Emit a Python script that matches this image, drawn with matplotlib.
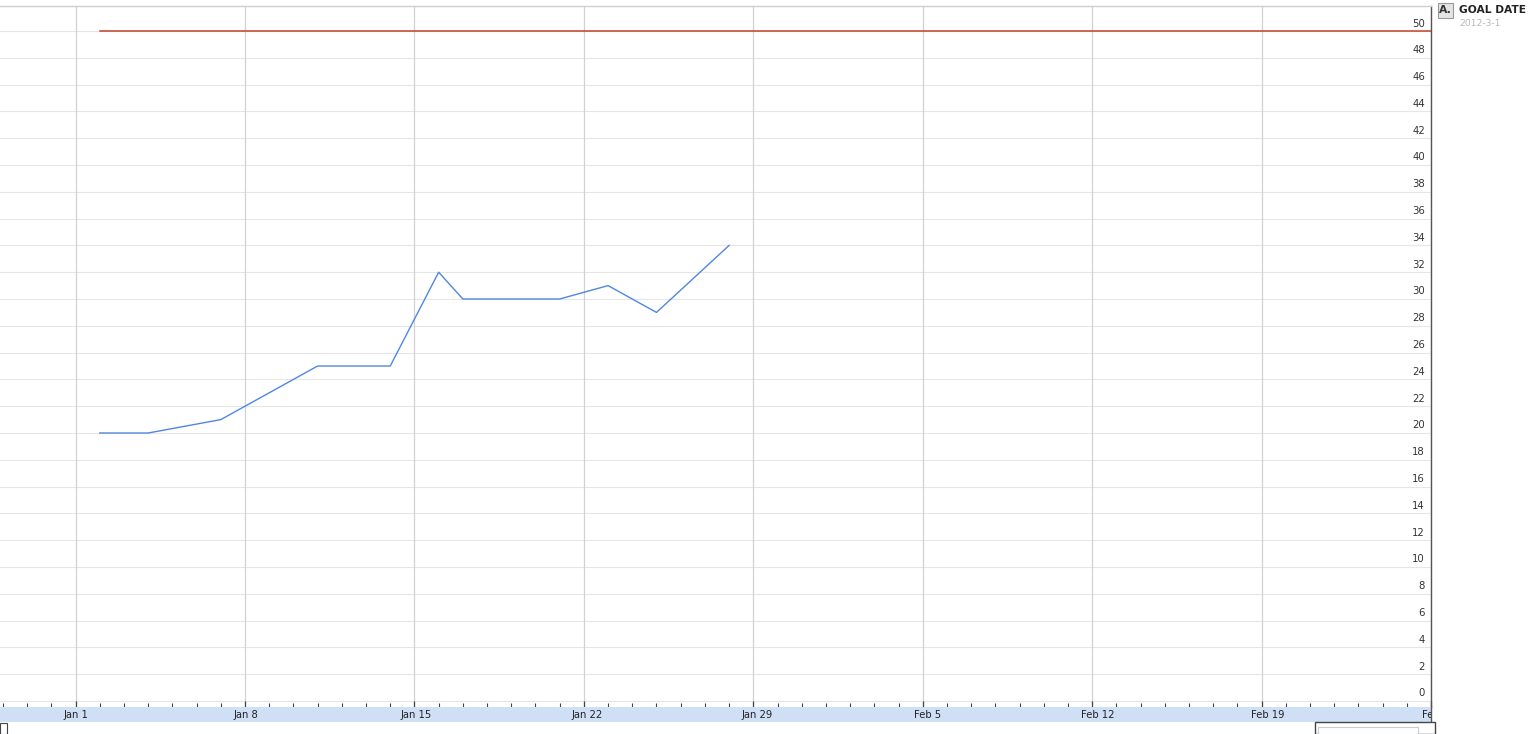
import matplotlib
matplotlib.use("Agg")
import matplotlib.pyplot as plt
import matplotlib.dates as mdates
import matplotlib.transforms as mtransforms
from matplotlib.patches import Rectangle
import numpy as np
import datetime as dt

# ---- data ----
dates = ["2012-01-02", "2012-01-04", "2012-01-07", "2012-01-11", "2012-01-14",
         "2012-01-16", "2012-01-17", "2012-01-21", "2012-01-23", "2012-01-25",
         "2012-01-28"]
values = [20, 20, 21, 25, 25, 32, 30, 30, 31, 29, 34]
goal_dates = ["2012-01-02", "2012-03-01"]
goal_values = [50, 50]
yticks = list(range(0, 51, 2))
week_ticks = ["2012-01-01", "2012-01-08", "2012-01-15", "2012-01-22", "2012-01-29",
              "2012-02-05", "2012-02-12", "2012-02-19", "2012-02-26"]
week_labels = ["Jan 1", "Jan 8", "Jan 15", "Jan 22", "Jan 29",
               "Feb 5", "Feb 12", "Feb 19", "Feb 26"]
legend_letter = "A."
legend_title = "GOAL DATE"
legend_sub = "2012-3-1"

W, H = 1537, 734
fig = plt.figure(figsize=(W / 100, H / 100), dpi=100)
fig.patch.set_facecolor("white")

def fx(px):
    return px / W

def fy(py):
    return 1 - py / H

x0 = mdates.date2num(dt.datetime(2012, 1, 1))
ppd = 24.33
xmin = x0 - 76 / ppd
xmax = x0 + (1431 - 76) / ppd

# main axes: top 6 px, bottom 707 px, right 1431 px
ax = fig.add_axes([0, fy(707), fx(1431), (707 - 6) / H])
ppu = 13.4
ax.set_xlim(xmin, xmax)
ax.set_ylim(-6 / ppu, (701 - 6) / ppu)

xd = mdates.datestr2num(dates)
gd = mdates.datestr2num(goal_dates)
wk = mdates.datestr2num(week_ticks)

# gridlines
for v in yticks:
    ax.axhline(v, color="#e6e6e6", lw=0.8, zorder=0)
for w in wk:
    ax.axvline(w, color="#d2d2d2", lw=0.9, zorder=0)

ax.plot(gd, goal_values, color="#c4412a", lw=1.1, zorder=3)
ax.plot(xd, values, color="#5087e0", lw=1.0, zorder=3)

# y labels inside, right aligned just above gridline
lab_tr = ax.get_yaxis_transform() + mtransforms.ScaledTranslation(0, 2.5 / 100, fig.dpi_scale_trans)
for v in yticks:
    ax.text(1425 / 1431, v, str(v), transform=lab_tr,
            ha="right", va="bottom", fontsize=7.3, color="#333333",
            fontfamily="DejaVu Sans")
ax.set_yticks([])

# bottom ticks (daily minor, weekly major), pointing in
ax.set_xticks(wk)
ax.set_xticks(np.arange(np.ceil(xmin), xmax, 1.0), minor=True)
ax.tick_params(axis="x", which="major", direction="in", length=4.3, width=0.9,
               color="#444444", labelbottom=False)
ax.tick_params(axis="x", which="minor", direction="in", length=2.8, width=0.8,
               color="#444444")
for s in ["left", "bottom"]:
    ax.spines[s].set_visible(False)
ax.spines["top"].set_color("#cfcfcf")
ax.spines["top"].set_linewidth(1.0)
ax.spines["right"].set_color("#555555")
ax.spines["right"].set_linewidth(1.0)

# date band
band = fig.add_axes([0, fy(722), fx(1431), 15 / H])
band.set_facecolor("#cfe0f6")
band.set_xlim(xmin, xmax)
band.set_ylim(0, 1)
band.set_xticks([])
band.set_yticks([])
for s in ["left", "bottom", "top"]:
    band.spines[s].set_visible(False)
band.spines["right"].set_color("#555555")
band.spines["right"].set_linewidth(1.0)
for w, lab in zip(wk, week_labels):
    band.text(w, 0.5, lab, ha="center", va="center", fontsize=7.2,
              color="#222222", clip_on=True)

# legend on right
fig.patches.append(Rectangle((fx(1438), fy(18)), fx(15), 15 / H,
                             transform=fig.transFigure, facecolor="#e4e4e4",
                             edgecolor="#9a9a9a", lw=0.8))
fig.text(fx(1445.5), fy(10), legend_letter, ha="center", va="center",
         fontsize=7.8, color="#333333", fontweight="bold")
fig.text(fx(1459), fy(10), legend_title, ha="left", va="center",
         fontsize=7.7, color="#222222", fontweight="bold")
fig.text(fx(1459), fy(23.5), legend_sub, ha="left", va="center",
         fontsize=6.6, color="#b8b8b8")

# partial boxes at bottom
fig.patches.append(Rectangle((fx(1315), 0), fx(120), (734 - 722) / H,
                             transform=fig.transFigure, facecolor="white",
                             edgecolor="#444444", lw=1.0))
fig.patches.append(Rectangle((fx(1318), 0), fx(100), (734 - 727) / H,
                             transform=fig.transFigure, facecolor="white",
                             edgecolor="#cccccc", lw=0.8))
fig.patches.append(Rectangle((0, 0), fx(7), (734 - 723) / H,
                             transform=fig.transFigure, facecolor="white",
                             edgecolor="#444444", lw=0.8))

fig.savefig("out.png", dpi=100, facecolor="white")
